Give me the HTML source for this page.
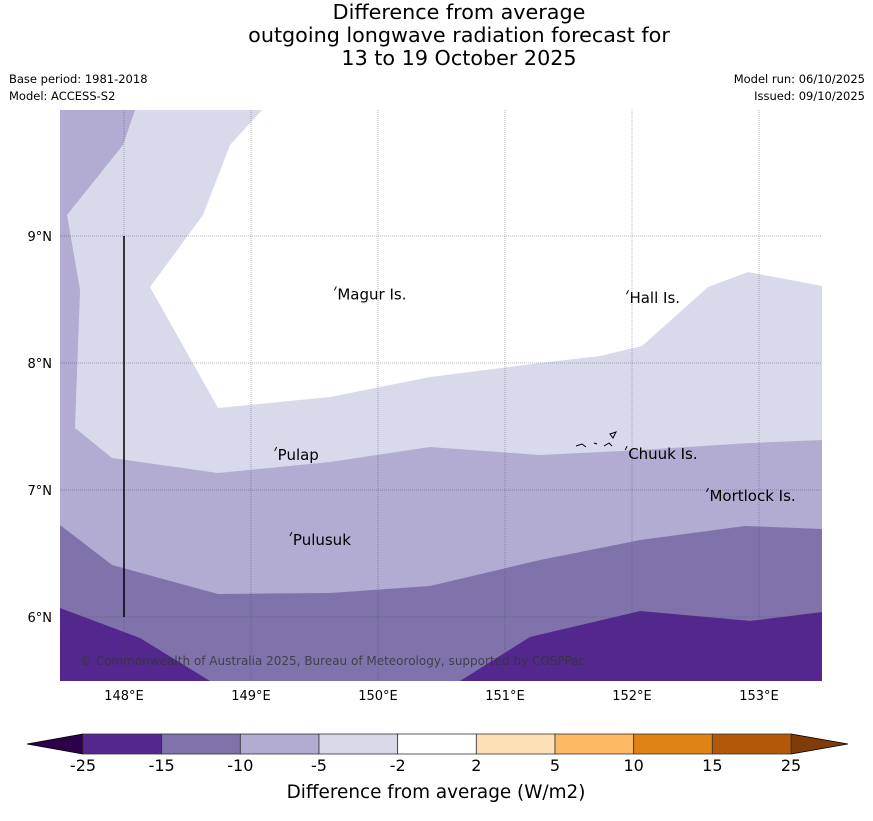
<!DOCTYPE html>
<html><head><meta charset="utf-8"><style>
body{margin:0;background:#fff;width:873px;height:816px;overflow:hidden;font-family:"Liberation Sans","DejaVu Sans",sans-serif}
svg text{font-family:"DejaVu Sans","Liberation Sans",sans-serif}
</style></head><body>
<svg width="873" height="816" xmlns="http://www.w3.org/2000/svg">
<g font-size="20.7" text-anchor="middle" fill="#000">
<text x="459" y="19">Difference from average</text>
<text x="459" y="42">outgoing longwave radiation forecast for</text>
<text x="459" y="65">13 to 19 October 2025</text>
</g>
<g font-size="11.5" fill="#000">
<text x="9" y="83">Base period: 1981-2018</text>
<text x="9" y="100">Model: ACCESS-S2</text>
<text x="865" y="83" text-anchor="end">Model run: 06/10/2025</text>
<text x="865" y="100" text-anchor="end">Issued: 09/10/2025</text>
</g>
<g id="map"></g>
<g id="cbar"></g>
<text x="436" y="798" font-size="18.4" text-anchor="middle">Difference from average (W/m2)</text>
</svg>
<script>
const levels=[-25,-15,-10,-5,-2,2,5,10,15,25];
const colors=["#54278f","#8073ac","#b2abd2","#d8daeb","#ffffff","#fee0b6","#fdb863","#e08214","#b35806"];
const lonTicks=[148,149,150,151,152,153];
const latTicks=[6,7,8,9];
const contLt2=[[147.496,9.992],[153.496,9.992],[153.496,5.496],[147.496,5.496]];
const contLt5=[[147.496,9.992],[148.087,9.992],[147.992,9.717],[147.551,9.165],[147.654,8.575],[147.614,7.488],[147.906,7.252],[148.74,7.134],[149.622,7.22],[150.409,7.339],[151.276,7.276],[152.063,7.315],[152.929,7.37],[153.496,7.394],[153.496,5.496],[147.496,5.496]];
const contAbove2=[[149.087,9.992],[148.835,9.717],[148.622,9.165],[148.205,8.598],[148.74,7.646],[149.622,7.732],[150.409,7.89],[151.276,8.0],[151.748,8.055],[152.079,8.134],[152.598,8.598],[152.913,8.717],[153.496,8.606],[153.496,9.992]];
const contLt10=[[147.496,6.724],[147.906,6.409],[148.74,6.181],[149.622,6.189],[150.409,6.244],[151.276,6.449],[152.063,6.606],[152.89,6.717],[153.496,6.693],[153.496,5.496],[147.496,5.496]];
const contLt15a=[[147.496,6.071],[148.126,5.835],[148.677,5.496],[147.496,5.496]];
const contLt15b=[[150.646,5.496],[151.197,5.843],[152.063,6.047],[152.929,5.969],[153.496,6.039],[153.496,5.496]];
const places=["Magur Is.","Hall Is.","Pulap","Chuuk Is.","Mortlock Is.","Pulusuk"];
const placeLon=[149.68,151.98,149.21,151.97,152.61,149.33];
const placeLat=[8.54,8.51,7.276,7.283,6.953,6.606];

const NS="http://www.w3.org/2000/svg";
const X=lon=>124+(lon-148)*127, Y=lat=>236-(lat-9)*127;
const map=document.getElementById('map');
function mk(t,a,p){const e=document.createElementNS(NS,t);for(const k in a)e.setAttribute(k,a[k]);(p||map).appendChild(e);return e;}
function poly(pts,fill,name){const e=mk('polygon',{points:pts.map(p=>X(p[0])+','+Y(p[1])).join(' '),fill:fill});

}
poly(contLt2,colors[3],'region-minus2-to-minus5');
poly(contAbove2,colors[4],'region-near-average');
poly(contLt5,colors[2],'region-minus5-to-minus10');
poly(contLt10,colors[1],'region-minus10-to-minus15');
poly(contLt15a,colors[0],'region-below-minus15-west');
poly(contLt15b,colors[0],'region-below-minus15-east');
lonTicks.forEach(l=>{const g=mk('line',{x1:X(l),x2:X(l),y1:110,y2:681,stroke:'#446',"stroke-width":0.5,"stroke-dasharray":"1,1",opacity:0.8});


const t=mk('text',{x:X(l),y:700,"font-size":13,"text-anchor":"middle"});t.textContent=l+'°E';

});
latTicks.forEach(l=>{const g=mk('line',{x1:60,x2:822,y1:Y(l),y2:Y(l),stroke:'#446',"stroke-width":0.5,"stroke-dasharray":"1,1",opacity:0.8});


const t=mk('text',{x:52,y:Y(l)+5,"font-size":13,"text-anchor":"end"});t.textContent=l+'°N';

});
const vl=mk('line',{x1:X(148),x2:X(148),y1:Y(9),y2:Y(6),stroke:'#000',"stroke-width":1.5});


places.forEach((p,i)=>{const x=X(placeLon[i]),y=Y(placeLat[i]);
const m=mk('path',{d:`M${x-3},${y-4} l2,-4`,stroke:'#000',"stroke-width":1,fill:'none'});


const t=mk('text',{x:x,y:y+5,"font-size":15});t.textContent=p;

});
const ch=mk('path',{d:'M576,446 l6,-2 l4,3 M594,443 l3,1 M604,446 l5,-3 l3,3 M610,434 l6,-2 l-3,6z',stroke:'#000',"stroke-width":1,fill:'none'});


const cp=mk('text',{x:80,y:665,"font-size":12,fill:'#333',opacity:0.8});cp.textContent='© Commonwealth of Australia 2025, Bureau of Meteorology, supported by COSPPac';



const cb=document.getElementById('cbar');
const CX=i=>83+i*(791-83)/(levels.length-1);
const la=mk('polygon',{points:`27,744 83,734 83,754`,fill:'#2d004b',stroke:'#000',"stroke-width":0.8},cb);


const ra=mk('polygon',{points:`848,744 791,734 791,754`,fill:'#7f3b08',stroke:'#000',"stroke-width":0.8},cb);


colors.forEach((c,i)=>{const r=mk('rect',{x:CX(i),y:734,width:CX(i+1)-CX(i),height:20,fill:c,stroke:'#333',"stroke-width":0.8},cb);

});
levels.forEach((v,i)=>{const t=mk('text',{x:CX(i),y:771,"font-size":16,"text-anchor":"middle"},cb);t.textContent=v;

});
</script>
</body></html>
